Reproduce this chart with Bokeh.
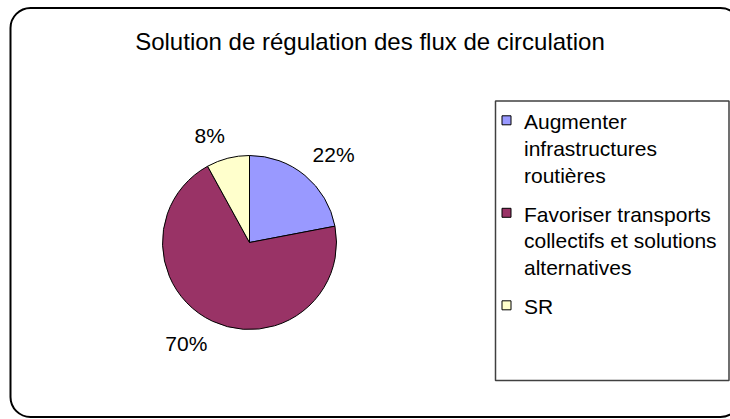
import numpy as np
from bokeh.plotting import figure
from bokeh.models import ColumnDataSource, Range1d, BoxAnnotation
from bokeh.core.properties import value
from bokeh.embed import file_html
from bokeh.resources import INLINE

# ---- data ----
title = "Solution de régulation des flux de circulation"
categories = ["Augmenter infrastructures routières",
              "Favoriser transports collectifs et solutions alternatives",
              "SR"]
legend_lines = [["Augmenter", "infrastructures", "routières"],
                ["Favoriser transports", "collectifs et solutions", "alternatives"],
                ["SR"]]
values = [22, 70, 8]
colors = ["#9999FF", "#993366", "#FFFFCC"]

# ---- layout (pixel space helpers) ----
W, H = 730, 419
def X(px):
    return px
def Y(py):
    return H - py

FONT = value("Liberation Sans")
DESC = 0.212  # descent fraction of em, for "bottom" baseline placement

p = figure(width=W, height=H, output_backend="svg", toolbar_location=None,
           x_range=Range1d(0, W), y_range=Range1d(0, H), min_border=0)
p.axis.visible = False
p.grid.visible = False
p.outline_line_color = None
p.background_fill_color = "white"

# outer rounded frame (right side runs off the picture, as in the original)
p.add_layout(BoxAnnotation(left=X(10), right=X(740), top=Y(7.5), bottom=Y(416.5),
                           border_radius=20, fill_alpha=0,
                           line_color="black", line_width=2, line_alpha=1))

# title
fs_t = 24
p.text(x=[X(369.5)], y=[Y(49 + DESC * fs_t)], text=[title], text_font=FONT,
       text_font_size=f"{fs_t}px", text_align="center", text_baseline="bottom",
       text_color="black")

# pie
cx, cy, r = X(249), Y(242), 87
vals = np.array(values, dtype=float)
frac = vals / vals.sum()
cum = np.concatenate([[0], np.cumsum(frac)])
start = np.pi / 2 - 2 * np.pi * cum[:-1]
end = np.pi / 2 - 2 * np.pi * cum[1:]
src = ColumnDataSource(dict(start=start, end=end, color=colors))
p.wedge(x=cx, y=cy, radius=r, start_angle="start", end_angle="end",
        direction="clock", fill_color="color", line_color="black",
        line_width=1, source=src)

# percentage labels
mid = (start + end) / 2
lr = r + 12
for m, v in zip(mid, values):
    lx = cx + lr * np.cos(m)
    ly = cy + lr * np.sin(m)
    align = "left" if np.cos(m) > 0 else "right"
    base = "bottom" if np.sin(m) > 0 else "top"
    p.text(x=[lx], y=[ly], text=[f"{v}%"], text_font=FONT,
           text_font_size="21px", text_align=align, text_baseline=base,
           text_color="black")

# legend box
p.add_layout(BoxAnnotation(left=X(495), right=X(728.5), top=Y(100.5), bottom=Y(380),
                           fill_alpha=0, line_color="#404040", line_width=1.5,
                           line_alpha=1))

fs_l = 21
line_h = 26.67
gap = 12.5
base_y = 128.3
sq_x, sq_y = [], []
t_x, t_y, t_s = [], [], []
for lines in legend_lines:
    sq_x.append(X(506))
    sq_y.append(Y(base_y - 8.5))
    for i, ln in enumerate(lines):
        t_x.append(X(523.5))
        t_y.append(Y(base_y + i * line_h + DESC * fs_l))
        t_s.append(ln)
    base_y += len(lines) * line_h + gap

p.scatter(x=sq_x, y=sq_y, marker="square", size=9, fill_color=colors,
          line_color="black", line_width=1)
p.text(x=t_x, y=t_y, text=t_s, text_font=FONT, text_font_size=f"{fs_l}px",
       text_align="left", text_baseline="bottom", text_color="black")

open("out.html", "w").write(file_html(p, INLINE))
